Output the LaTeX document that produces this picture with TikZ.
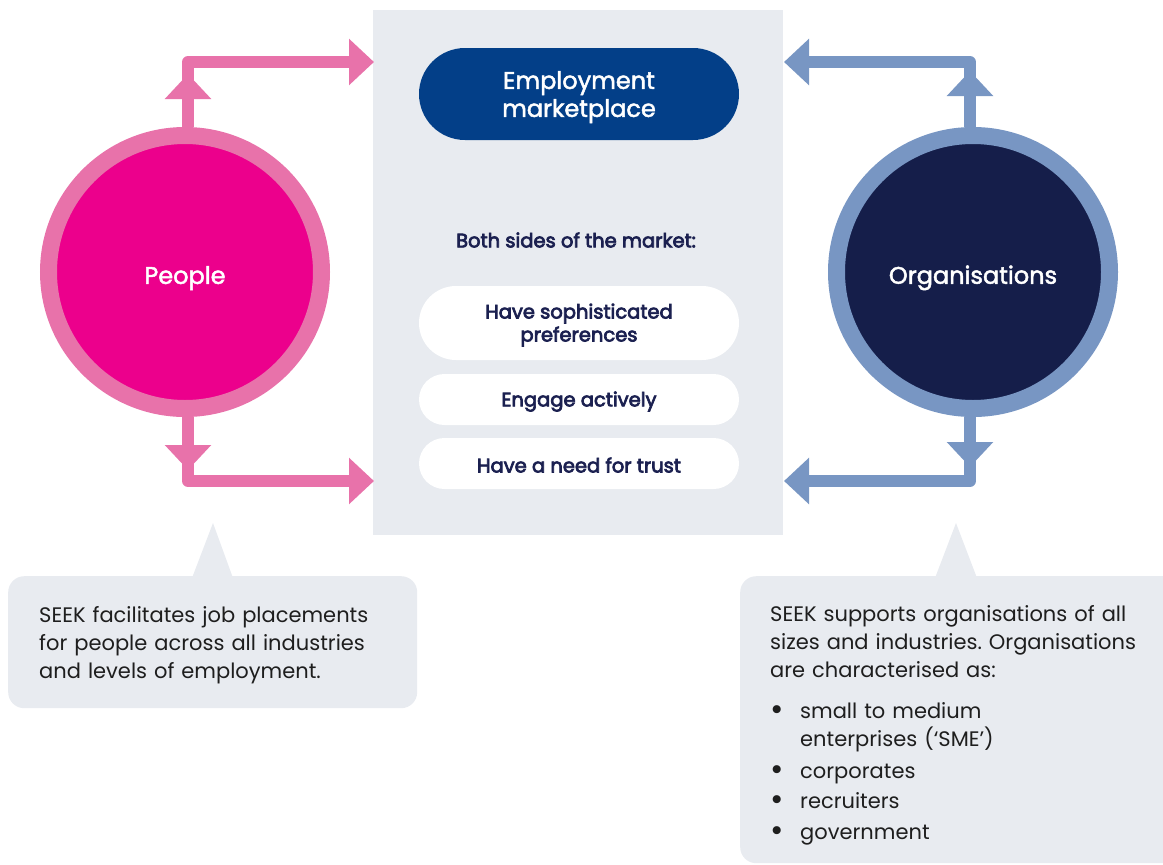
\documentclass[tikz,border=0pt]{standalone}
\usepackage{fontspec}
\setmainfont{Poppins}
\newfontfamily\medfont[FakeBold=2]{Poppins}
\newfontfamily\semifont[FakeBold=3.6]{Poppins}
\usetikzlibrary{arrows.meta,shapes.misc}
\definecolor{panelgrey}{HTML}{E8EBF0}
\definecolor{pillblue}{HTML}{033F88}
\definecolor{navytext}{HTML}{1B2050}
\definecolor{pinkring}{HTML}{E872AA}
\definecolor{magentafill}{HTML}{EC008C}
\definecolor{bluering}{HTML}{7896C3}
\definecolor{navyfill}{HTML}{151E4A}
\definecolor{bodytext}{HTML}{1E1E1E}
\newcommand\padtop[1]{\rule{0pt}{#1}}
\newcommand\listdot{\makebox[30pt][l]{\hspace{0.5pt}\raisebox{-1.6pt}{\scalebox{1.55}{•}}}}
\tikzset{
  panelbox/.style={rectangle, fill=panelgrey, inner sep=0pt, minimum width=410pt, minimum height=525pt},
  pill/.style={rounded rectangle, fill=white, inner sep=0pt, minimum width=320pt, text=navytext, align=center,
    font=\fontsize{19.5}{23}\semifont},
  headpill/.style={rounded rectangle, fill=pillblue, inner sep=0pt, minimum width=320pt, minimum height=92pt,
    text=white, align=center, font=\fontsize{24}{28}\medfont},
  bigcircle/.style={circle, line width=17pt, minimum size=273pt, inner sep=0pt, text=white,
    font=\fontsize{24}{28}\medfont},
  pinkarrow/.style={draw=pinkring, line width=12pt, line join=round, -{Triangle[width=45pt,length=25pt]}},
  bluearrow/.style={draw=bluering, line width=12pt, line join=round, -{Triangle[width=45pt,length=25pt]}},
  callout/.style={fill=panelgrey, rounded corners=16pt, inner ysep=0pt, anchor=north west, align=left,
    text=bodytext, font=\fontsize{21}{28}\selectfont\frenchspacing},
}
\begin{document}
\begin{tikzpicture}[x=1pt,y=-1pt]
\useasboundingbox (0,0) rectangle (1163,865);
\clip (0,0) rectangle (1163,865);

% central panel
\node[panelbox] (panel) at (578,272.5) {};
\node[headpill] (market) at (579,94) {\padtop{24pt}Employment\\marketplace};
\node[text=navytext, font=\fontsize{19.5}{23}\semifont] (both) at (576,240) {Both sides of the market:};
\node[pill, minimum height=74pt] (pref) at (579,323) {\padtop{19pt}Have sophisticated\\preferences};
\node[pill, minimum height=51pt] (engage) at (579,399.5) {\padtop{19pt}Engage actively};
\node[pill, minimum height=51pt] (trust) at (579,463.5) {\padtop{18pt}Have a need for trust};

% side circles
\node[bigcircle, fill=magentafill, draw=pinkring] (people) at (185,272) {\padtop{30pt}People};
\node[bigcircle, fill=navyfill, draw=bluering] (orgs) at (973,272) {\padtop{30pt}Organisations};

% arrow end points
\coordinate (pinkTop) at (374,62);
\coordinate (pinkBot) at (374,481);
\coordinate (pinkUp) at (188,74);
\coordinate (pinkDown) at (188,470);
\coordinate (blueTop) at (784,62);
\coordinate (blueBot) at (784,481);
\coordinate (blueUp) at (970,71);
\coordinate (blueDown) at (970,467);

% pink arrows
\draw[pinkarrow] ([xshift=3pt]people.north) |- (pinkTop);
\draw[pinkarrow] ([xshift=3pt]people.north) -- (pinkUp);
\draw[pinkarrow] ([xshift=3pt]people.south) |- (pinkBot);
\draw[pinkarrow] ([xshift=3pt]people.south) -- (pinkDown);

% blue arrows
\draw[bluearrow] ([xshift=-3pt]orgs.north) |- (blueTop);
\draw[bluearrow] ([xshift=-3pt]orgs.north) -- (blueUp);
\draw[bluearrow] ([xshift=-3pt]orgs.south) |- (blueBot);
\draw[bluearrow] ([xshift=-3pt]orgs.south) -- (blueDown);

% callouts
\fill[panelgrey] (192,578) -- (213,523) -- (233,578) -- cycle;
\node[callout, inner xsep=31pt, minimum width=409pt, minimum height=132pt, text width=347pt] (peoplenote) at (8,576)
  {\padtop{22pt}SEEK facilitates job placements\\for people across all industries\\and levels of employment.};

\fill[panelgrey] (935,578) -- (956,523) -- (977,578) -- cycle;
\node[callout, inner xsep=30pt, minimum width=460pt, minimum height=287pt, text width=400pt] (orgnote) at (740,576)
  {\padtop{28pt}SEEK supports organisations of all\\sizes and industries. Organisations\\are characterised as:\\[13pt]
   \listdot small to medium\\
   \makebox[30pt][l]{}enterprises (‘SME’)\\[4pt]
   \listdot corporates\\[2pt]
   \listdot recruiters\\[3pt]
   \listdot government};
\end{tikzpicture}
\end{document}
